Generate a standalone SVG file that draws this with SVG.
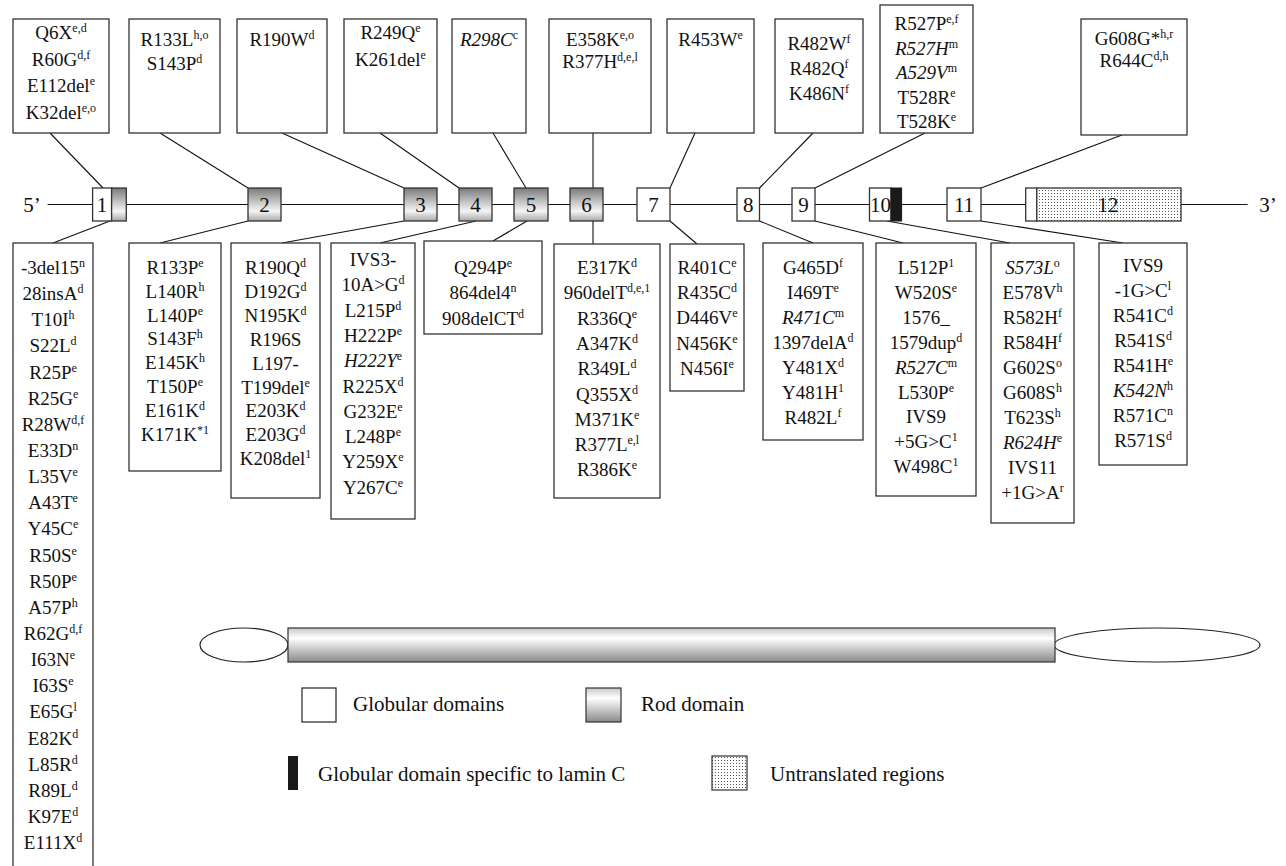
<svg xmlns="http://www.w3.org/2000/svg" width="1286" height="866" viewBox="0 0 1286 866">
<defs>
<style>
.bx{fill:#fff;stroke:#333;stroke-width:1.3}
.t{font-family:"Liberation Serif","Times New Roman",serif;font-size:19px;text-anchor:middle;fill:#111}
.s{font-size:12px}
.i{font-style:italic}
.n{font-family:"Liberation Serif","Times New Roman",serif;font-size:21px;text-anchor:middle;fill:#111}
.lg{font-family:"Liberation Serif","Times New Roman",serif;font-size:21px;fill:#111}
.ln{stroke:#111;stroke-width:1.1;fill:none}
.ex{stroke:#333;stroke-width:1.3}
</style>
<linearGradient id="gx" x1="0" y1="0" x2="0" y2="1">
<stop offset="0" stop-color="#7a7a7a"/><stop offset="0.7" stop-color="#f5f5f5"/><stop offset="1" stop-color="#a8a8a8"/>
</linearGradient>
<linearGradient id="gr" x1="0" y1="0" x2="0" y2="1">
<stop offset="0" stop-color="#c8c8c8"/><stop offset="0.3" stop-color="#ffffff"/><stop offset="1" stop-color="#8a8a8a"/>
</linearGradient>
<pattern id="dots" width="3" height="3" patternUnits="userSpaceOnUse">
<rect width="3" height="3" fill="#fff"/><rect x="1" y="1" width="1" height="1" fill="#555"/>
</pattern>
</defs>
<rect width="1286" height="866" fill="#fff"/>

<g id="connectors">
<line class="ln" x1="47.6" y1="204.5" x2="1247.7" y2="204.5"/>
<line class="ln" x1="50" y1="133" x2="103" y2="188"/>
<line class="ln" x1="160" y1="133" x2="248" y2="188"/>
<line class="ln" x1="282" y1="133" x2="404" y2="188"/>
<line class="ln" x1="380" y1="133" x2="459" y2="188"/>
<line class="ln" x1="493" y1="133" x2="526" y2="188"/>
<line class="ln" x1="593" y1="133" x2="593" y2="188"/>
<line class="ln" x1="695" y1="133" x2="670" y2="188"/>
<line class="ln" x1="813" y1="133" x2="759.5" y2="188"/>
<line class="ln" x1="925" y1="133" x2="815" y2="188"/>
<line class="ln" x1="1122" y1="135" x2="981" y2="188"/>
<line class="ln" x1="110" y1="221" x2="53" y2="243"/>
<line class="ln" x1="248" y1="221" x2="160" y2="243"/>
<line class="ln" x1="404" y1="221" x2="282" y2="243"/>
<line class="ln" x1="476" y1="221" x2="380" y2="243"/>
<line class="ln" x1="527" y1="221" x2="493" y2="241"/>
<line class="ln" x1="593" y1="221" x2="593" y2="244"/>
<line class="ln" x1="670" y1="221" x2="697" y2="244"/>
<line class="ln" x1="759.5" y1="221" x2="813" y2="243"/>
<line class="ln" x1="815" y1="221" x2="903" y2="243"/>
<line class="ln" x1="887" y1="221" x2="1010" y2="243"/>
<line class="ln" x1="981" y1="221" x2="1123" y2="243"/>
</g>

<g id="gene">
<text class="n" x="32" y="212">5’</text>
<text class="n" x="1268" y="212">3’</text>
<g id="exon1"><rect class="ex" x="92.6" y="188" width="19" height="33" fill="#fff"/><rect class="ex" x="111.6" y="188" width="14.7" height="33" fill="url(#gx)"/><text class="n" x="102" y="212">1</text></g>
<g id="exon2"><rect class="ex" x="248" y="188" width="33" height="33" fill="url(#gx)"/><text class="n" x="264.5" y="212">2</text></g>
<g id="exon3"><rect class="ex" x="404" y="188" width="33" height="33" fill="url(#gx)"/><text class="n" x="420.5" y="212">3</text></g>
<g id="exon4"><rect class="ex" x="459" y="188" width="33" height="33" fill="url(#gx)"/><text class="n" x="475.5" y="212">4</text></g>
<g id="exon5"><rect class="ex" x="514" y="188" width="34" height="33" fill="url(#gx)"/><text class="n" x="531" y="212">5</text></g>
<g id="exon6"><rect class="ex" x="570" y="188" width="33" height="33" fill="url(#gx)"/><text class="n" x="586.5" y="212">6</text></g>
<g id="exon7"><rect class="ex" x="637" y="188" width="33" height="33" fill="#fff"/><text class="n" x="653.5" y="212">7</text></g>
<g id="exon8"><rect class="ex" x="737" y="188" width="22.5" height="33" fill="#fff"/><text class="n" x="748.3" y="212">8</text></g>
<g id="exon9"><rect class="ex" x="792" y="188" width="23" height="33" fill="#fff"/><text class="n" x="803.5" y="212">9</text></g>
<g id="exon10"><rect class="ex" x="869.5" y="188" width="21.5" height="33" fill="#fff"/><rect x="891" y="188" width="10.6" height="33" fill="#1a1a1a" stroke="#1a1a1a"/><text class="n" x="880.5" y="212">10</text></g>
<g id="exon11"><rect class="ex" x="947" y="188" width="34" height="33" fill="#fff"/><text class="n" x="964" y="212">11</text></g>
<g id="exon12"><rect class="ex" x="1025.7" y="188" width="11.1" height="33" fill="#fff"/><rect class="ex" x="1036.8" y="188" width="144.2" height="33" fill="url(#dots)"/><text class="n" x="1108" y="212">12</text></g>
</g>

<g id="top1"><rect class="bx" x="13" y="19" width="96" height="114"/>
<text class="t" x="61" y="39">Q6X<tspan class="s" dy="-7">e,d</tspan></text>
<text class="t" x="61" y="66">R60G<tspan class="s" dy="-7">d,f</tspan></text>
<text class="t" x="61" y="92">E112del<tspan class="s" dy="-7">e</tspan></text>
<text class="t" x="61" y="119">K32del<tspan class="s" dy="-7">e,o</tspan></text></g>
<g id="top2"><rect class="bx" x="129" y="19" width="91" height="114"/>
<text class="t" x="174.5" y="46">R133L<tspan class="s" dy="-7">h,o</tspan></text>
<text class="t" x="174.5" y="70">S143P<tspan class="s" dy="-7">d</tspan></text></g>
<g id="top3"><rect class="bx" x="237" y="19" width="90" height="114"/>
<text class="t" x="282" y="46">R190W<tspan class="s" dy="-7">d</tspan></text></g>
<g id="top4"><rect class="bx" x="344" y="19" width="93" height="114"/>
<text class="t" x="390.5" y="39">R249Q<tspan class="s" dy="-7">e</tspan></text>
<text class="t" x="390.5" y="66">K261del<tspan class="s" dy="-7">e</tspan></text></g>
<g id="top5"><rect class="bx" x="452" y="19" width="74" height="114"/>
<text class="t" x="489" y="46"><tspan class="i">R298C</tspan><tspan class="s" dy="-7">c</tspan></text></g>
<g id="top6"><rect class="bx" x="549" y="19" width="102" height="114"/>
<text class="t" x="600" y="46">E358K<tspan class="s" dy="-7">e,o</tspan></text>
<text class="t" x="600" y="68">R377H<tspan class="s" dy="-7">d,e,l</tspan></text></g>
<g id="top7"><rect class="bx" x="667" y="19" width="87" height="114"/>
<text class="t" x="710.5" y="46">R453W<tspan class="s" dy="-7">e</tspan></text></g>
<g id="top8"><rect class="bx" x="775" y="19" width="88" height="114"/>
<text class="t" x="819" y="50">R482W<tspan class="s" dy="-7">f</tspan></text>
<text class="t" x="819" y="75">R482Q<tspan class="s" dy="-7">f</tspan></text>
<text class="t" x="819" y="100">K486N<tspan class="s" dy="-7">f</tspan></text></g>
<g id="top9"><rect class="bx" x="880" y="5" width="93" height="128"/>
<text class="t" x="926.5" y="30">R527P<tspan class="s" dy="-7">e,f</tspan></text>
<text class="t" x="926.5" y="55"><tspan class="i">R527H</tspan><tspan class="s" dy="-7">m</tspan></text>
<text class="t" x="926.5" y="79"><tspan class="i">A529V</tspan><tspan class="s" dy="-7">m</tspan></text>
<text class="t" x="926.5" y="104">T528R<tspan class="s" dy="-7">e</tspan></text>
<text class="t" x="926.5" y="128">T528K<tspan class="s" dy="-7">e</tspan></text></g>
<g id="top10"><rect class="bx" x="1081" y="19" width="106" height="116"/>
<text class="t" x="1134" y="45">G608G*<tspan class="s" dy="-7">h,r</tspan></text>
<text class="t" x="1134" y="67">R644C<tspan class="s" dy="-7">d,h</tspan></text></g>

<g id="bot1"><rect class="bx" x="13" y="243" width="80" height="640"/>
<text class="t" x="53" y="274">-3del15<tspan class="s" dy="-7">n</tspan></text>
<text class="t" x="53" y="300.1">28insA<tspan class="s" dy="-7">d</tspan></text>
<text class="t" x="53" y="326.3">T10I<tspan class="s" dy="-7">h</tspan></text>
<text class="t" x="53" y="352.4">S22L<tspan class="s" dy="-7">d</tspan></text>
<text class="t" x="53" y="378.6">R25P<tspan class="s" dy="-7">e</tspan></text>
<text class="t" x="53" y="404.7">R25G<tspan class="s" dy="-7">e</tspan></text>
<text class="t" x="53" y="430.8">R28W<tspan class="s" dy="-7">d,f</tspan></text>
<text class="t" x="53" y="457">E33D<tspan class="s" dy="-7">n</tspan></text>
<text class="t" x="53" y="483.1">L35V<tspan class="s" dy="-7">e</tspan></text>
<text class="t" x="53" y="509.3">A43T<tspan class="s" dy="-7">e</tspan></text>
<text class="t" x="53" y="535.4">Y45C<tspan class="s" dy="-7">e</tspan></text>
<text class="t" x="53" y="561.5">R50S<tspan class="s" dy="-7">e</tspan></text>
<text class="t" x="53" y="587.7">R50P<tspan class="s" dy="-7">e</tspan></text>
<text class="t" x="53" y="613.8">A57P<tspan class="s" dy="-7">h</tspan></text>
<text class="t" x="53" y="640">R62G<tspan class="s" dy="-7">d,f</tspan></text>
<text class="t" x="53" y="666.1">I63N<tspan class="s" dy="-7">e</tspan></text>
<text class="t" x="53" y="692.2">I63S<tspan class="s" dy="-7">e</tspan></text>
<text class="t" x="53" y="718.4">E65G<tspan class="s" dy="-7">l</tspan></text>
<text class="t" x="53" y="744.5">E82K<tspan class="s" dy="-7">d</tspan></text>
<text class="t" x="53" y="770.7">L85R<tspan class="s" dy="-7">d</tspan></text>
<text class="t" x="53" y="796.8">R89L<tspan class="s" dy="-7">d</tspan></text>
<text class="t" x="53" y="822.9">K97E<tspan class="s" dy="-7">d</tspan></text>
<text class="t" x="53" y="849">E111X<tspan class="s" dy="-7">d</tspan></text></g>

<g id="bot2"><rect class="bx" x="129" y="243" width="92" height="228"/>
<text class="t" x="175" y="274">R133P<tspan class="s" dy="-7">e</tspan></text>
<text class="t" x="175" y="297.8">L140R<tspan class="s" dy="-7">h</tspan></text>
<text class="t" x="175" y="321.6">L140P<tspan class="s" dy="-7">e</tspan></text>
<text class="t" x="175" y="345.4">S143F<tspan class="s" dy="-7">h</tspan></text>
<text class="t" x="175" y="369.2">E145K<tspan class="s" dy="-7">h</tspan></text>
<text class="t" x="175" y="393">T150P<tspan class="s" dy="-7">e</tspan></text>
<text class="t" x="175" y="416.8">E161K<tspan class="s" dy="-7">d</tspan></text>
<text class="t" x="175" y="440.6">K171K<tspan class="s" dy="-7">*1</tspan></text></g>

<g id="bot3"><rect class="bx" x="231" y="243" width="89" height="255"/>
<text class="t" x="275.5" y="274">R190Q<tspan class="s" dy="-7">d</tspan></text>
<text class="t" x="275.5" y="297.9">D192G<tspan class="s" dy="-7">d</tspan></text>
<text class="t" x="275.5" y="321.8">N195K<tspan class="s" dy="-7">d</tspan></text>
<text class="t" x="275.5" y="345.7">R196S</text>
<text class="t" x="275.5" y="369.6">L197-</text>
<text class="t" x="275.5" y="393.5">T199del<tspan class="s" dy="-7">e</tspan></text>
<text class="t" x="275.5" y="417.4">E203K<tspan class="s" dy="-7">d</tspan></text>
<text class="t" x="275.5" y="441.3">E203G<tspan class="s" dy="-7">d</tspan></text>
<text class="t" x="275.5" y="465.2">K208del<tspan class="s" dy="-7">1</tspan></text></g>

<g id="bot4"><rect class="bx" x="331" y="243" width="84" height="276"/>
<text class="t" x="373" y="266">IVS3-</text>
<text class="t" x="373" y="291.3">10A&gt;G<tspan class="s" dy="-7">d</tspan></text>
<text class="t" x="373" y="316.6">L215P<tspan class="s" dy="-7">d</tspan></text>
<text class="t" x="373" y="341.9">H222P<tspan class="s" dy="-7">e</tspan></text>
<text class="t" x="373" y="367.2"><tspan class="i">H222Y</tspan><tspan class="s" dy="-7">e</tspan></text>
<text class="t" x="373" y="392.5">R225X<tspan class="s" dy="-7">d</tspan></text>
<text class="t" x="373" y="417.8">G232E<tspan class="s" dy="-7">e</tspan></text>
<text class="t" x="373" y="443.1">L248P<tspan class="s" dy="-7">e</tspan></text>
<text class="t" x="373" y="468.4">Y259X<tspan class="s" dy="-7">e</tspan></text>
<text class="t" x="373" y="493.7">Y267C<tspan class="s" dy="-7">e</tspan></text></g>

<g id="bot5"><rect class="bx" x="424" y="241" width="118" height="93"/>
<text class="t" x="483" y="274">Q294P<tspan class="s" dy="-7">e</tspan></text>
<text class="t" x="483" y="299.3">864del4<tspan class="s" dy="-7">n</tspan></text>
<text class="t" x="483" y="324.6">908delCT<tspan class="s" dy="-7">d</tspan></text></g>

<g id="bot6"><rect class="bx" x="554" y="244" width="106" height="254"/>
<text class="t" x="607" y="274">E317K<tspan class="s" dy="-7">d</tspan></text>
<text class="t" x="607" y="299.3">960delT<tspan class="s" dy="-7">d,e,1</tspan></text>
<text class="t" x="607" y="324.6">R336Q<tspan class="s" dy="-7">e</tspan></text>
<text class="t" x="607" y="349.9">A347K<tspan class="s" dy="-7">d</tspan></text>
<text class="t" x="607" y="375.2">R349L<tspan class="s" dy="-7">d</tspan></text>
<text class="t" x="607" y="400.5">Q355X<tspan class="s" dy="-7">d</tspan></text>
<text class="t" x="607" y="425.8">M371K<tspan class="s" dy="-7">e</tspan></text>
<text class="t" x="607" y="451.1">R377L<tspan class="s" dy="-7">e,l</tspan></text>
<text class="t" x="607" y="476.4">R386K<tspan class="s" dy="-7">e</tspan></text></g>

<g id="bot7"><rect class="bx" x="670" y="244" width="74" height="147"/>
<text class="t" x="707" y="274">R401C<tspan class="s" dy="-7">e</tspan></text>
<text class="t" x="707" y="299.2">R435C<tspan class="s" dy="-7">d</tspan></text>
<text class="t" x="707" y="324.4">D446V<tspan class="s" dy="-7">e</tspan></text>
<text class="t" x="707" y="349.6">N456K<tspan class="s" dy="-7">e</tspan></text>
<text class="t" x="707" y="374.8">N456I<tspan class="s" dy="-7">e</tspan></text></g>

<g id="bot8"><rect class="bx" x="763" y="243" width="100" height="197"/>
<text class="t" x="813" y="274">G465D<tspan class="s" dy="-7">f</tspan></text>
<text class="t" x="813" y="299">I469T<tspan class="s" dy="-7">e</tspan></text>
<text class="t" x="813" y="324"><tspan class="i">R471C</tspan><tspan class="s" dy="-7">m</tspan></text>
<text class="t" x="813" y="349">1397delA<tspan class="s" dy="-7">d</tspan></text>
<text class="t" x="813" y="374">Y481X<tspan class="s" dy="-7">d</tspan></text>
<text class="t" x="813" y="399">Y481H<tspan class="s" dy="-7">1</tspan></text>
<text class="t" x="813" y="424">R482L<tspan class="s" dy="-7">f</tspan></text></g>

<g id="bot9"><rect class="bx" x="876" y="243" width="100" height="253"/>
<text class="t" x="926" y="274">L512P<tspan class="s" dy="-7">1</tspan></text>
<text class="t" x="926" y="298.9">W520S<tspan class="s" dy="-7">e</tspan></text>
<text class="t" x="926" y="323.8">1576_</text>
<text class="t" x="926" y="348.7">1579dup<tspan class="s" dy="-7">d</tspan></text>
<text class="t" x="926" y="373.6"><tspan class="i">R527C</tspan><tspan class="s" dy="-7">m</tspan></text>
<text class="t" x="926" y="398.5">L530P<tspan class="s" dy="-7">e</tspan></text>
<text class="t" x="926" y="423.4">IVS9</text>
<text class="t" x="926" y="448.3">+5G&gt;C<tspan class="s" dy="-7">1</tspan></text>
<text class="t" x="926" y="473.2">W498C<tspan class="s" dy="-7">1</tspan></text></g>

<g id="bot10"><rect class="bx" x="991" y="243" width="83" height="280"/>
<text class="t" x="1032.5" y="274"><tspan class="i">S573L</tspan><tspan class="s" dy="-7">o</tspan></text>
<text class="t" x="1032.5" y="299">E578V<tspan class="s" dy="-7">h</tspan></text>
<text class="t" x="1032.5" y="324">R582H<tspan class="s" dy="-7">f</tspan></text>
<text class="t" x="1032.5" y="349">R584H<tspan class="s" dy="-7">f</tspan></text>
<text class="t" x="1032.5" y="374">G602S<tspan class="s" dy="-7">o</tspan></text>
<text class="t" x="1032.5" y="399">G608S<tspan class="s" dy="-7">h</tspan></text>
<text class="t" x="1032.5" y="424">T623S<tspan class="s" dy="-7">h</tspan></text>
<text class="t" x="1032.5" y="449"><tspan class="i">R624H</tspan><tspan class="s" dy="-7">e</tspan></text>
<text class="t" x="1032.5" y="474">IVS11</text>
<text class="t" x="1032.5" y="499">+1G&gt;A<tspan class="s" dy="-7">r</tspan></text></g>

<g id="bot11"><rect class="bx" x="1099" y="243" width="88" height="222"/>
<text class="t" x="1143" y="272">IVS9</text>
<text class="t" x="1143" y="297">-1G&gt;C<tspan class="s" dy="-7">l</tspan></text>
<text class="t" x="1143" y="322">R541C<tspan class="s" dy="-7">d</tspan></text>
<text class="t" x="1143" y="347">R541S<tspan class="s" dy="-7">d</tspan></text>
<text class="t" x="1143" y="372">R541H<tspan class="s" dy="-7">e</tspan></text>
<text class="t" x="1143" y="397"><tspan class="i">K542N</tspan><tspan class="s" dy="-7">h</tspan></text>
<text class="t" x="1143" y="422">R571C<tspan class="s" dy="-7">n</tspan></text>
<text class="t" x="1143" y="447">R571S<tspan class="s" dy="-7">d</tspan></text></g>

<g id="protein">
<ellipse cx="244" cy="645" rx="44" ry="17" fill="#fff" stroke="#222" stroke-width="1.2"/>
<ellipse cx="1157" cy="645" rx="103" ry="17" fill="#fff" stroke="#222" stroke-width="1.2"/>
<rect x="288" y="628" width="767" height="34" fill="url(#gr)" stroke="#333" stroke-width="1.2"/>
</g>

<g id="legend">
<rect class="bx" x="302" y="688" width="34" height="34"/>
<text class="lg" x="353" y="711">Globular domains</text>
<rect x="586" y="688" width="35" height="34" fill="url(#gr)" stroke="#333" stroke-width="1.2"/>
<text class="lg" x="641" y="711">Rod domain</text>
<rect x="288" y="756" width="10" height="34" fill="#1a1a1a"/>
<text class="lg" x="318" y="781">Globular domain specific to lamin C</text>
<rect x="712" y="756" width="35" height="34" fill="url(#dots)" stroke="#333" stroke-width="1.2"/>
<text class="lg" x="770" y="781">Untranslated regions</text>
</g>
</svg>
